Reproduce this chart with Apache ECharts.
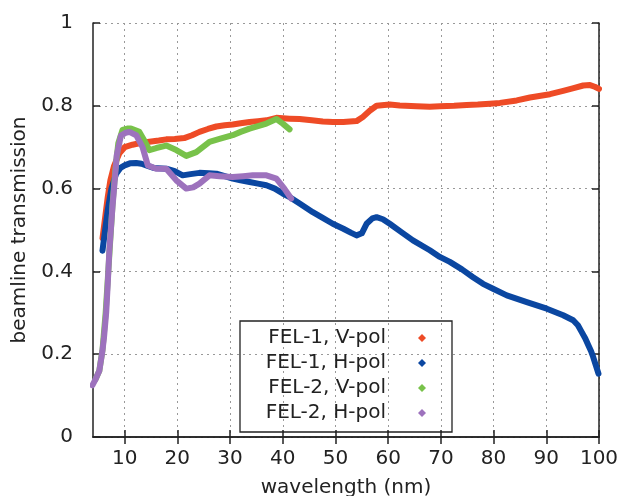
<!DOCTYPE html>
<html>
<head>
<meta charset="utf-8">
<script src="https://cdn.jsdelivr.net/npm/echarts@6/dist/echarts.min.js"></script>
<style>html,body{margin:0;padding:0;background:#fff;}#c{width:620px;height:496px;}</style>
</head>
<body>
<div id="c"></div>
<script>
const seriesNames = ['FEL-1, V-pol', 'FEL-1, H-pol', 'FEL-2, V-pol', 'FEL-2, H-pol'];
const xTicks = [10, 20, 30, 40, 50, 60, 70, 80, 90, 100];
const yTicks = [0, 0.2, 0.4, 0.6, 0.8, 1];

const fel1V_x = [5.8, 6.3, 6.8, 7.3, 8, 9, 10, 11.5, 13, 14.7, 16.5, 17.9, 19.5, 21.3, 22.8, 24.2, 25.8, 27.4, 29, 30.5, 32, 33.7, 35.3, 36.9, 38.8, 41.3, 43.2, 45.5, 47.6, 49.5, 51.5, 54, 55.2, 56.5, 57.8, 60.3, 62.2, 65.4, 67.9, 69.8, 72.5, 74.9, 77, 79.3, 81.2, 84.4, 86.9, 90.7, 93.2, 95, 97, 98.3, 99.2, 100];
const fel1V_y = [0.48, 0.53, 0.58, 0.62, 0.655, 0.685, 0.70, 0.706, 0.71, 0.713, 0.716, 0.719, 0.72, 0.722, 0.729, 0.737, 0.744, 0.75, 0.753, 0.755, 0.758, 0.761, 0.763, 0.765, 0.771, 0.769, 0.768, 0.765, 0.762, 0.761, 0.761, 0.763, 0.773, 0.788, 0.8, 0.803, 0.801, 0.799, 0.798, 0.799, 0.8, 0.802, 0.803, 0.805, 0.807, 0.813, 0.82, 0.828, 0.836, 0.842, 0.849, 0.850, 0.846, 0.841];

const fel1H_x = [5.8, 6.3, 6.8, 7.5, 8.4, 9.2, 10, 11, 12.2, 13.2, 14.1, 15.5, 17.9, 19.5, 21, 22.5, 24.2, 26, 27.4, 29, 30.5, 32, 33.7, 35.3, 36.9, 38.5, 40, 41.5, 43.2, 45.7, 47.5, 49.5, 51.5, 53, 54, 55, 55.9, 57, 57.8, 59, 60.3, 62.5, 64.7, 67.9, 69.8, 71.7, 74, 76.1, 78, 79.9, 82.5, 86.3, 90.1, 93.2, 95.1, 96, 96.7, 97.4, 98, 98.5, 98.9, 99.4, 99.9];
const fel1H_y = [0.45, 0.5, 0.548, 0.6, 0.636, 0.65, 0.656, 0.661, 0.662, 0.66, 0.656, 0.65, 0.648, 0.642, 0.632, 0.635, 0.638, 0.637, 0.636, 0.63, 0.624, 0.62, 0.616, 0.612, 0.608, 0.6, 0.588, 0.578, 0.564, 0.543, 0.53, 0.515, 0.503, 0.493, 0.487, 0.492, 0.515, 0.528, 0.531, 0.526, 0.515, 0.495, 0.475, 0.451, 0.435, 0.423, 0.405, 0.386, 0.37, 0.358, 0.342, 0.326, 0.31, 0.294, 0.282, 0.27, 0.254, 0.238, 0.221, 0.207, 0.193, 0.173, 0.153];

const fel2V_x = [4.5, 5.2, 5.8, 6.4, 6.8, 7.2, 7.7, 8.2, 8.8, 9.6, 10.5, 11.2, 12.2, 12.8, 13.7, 14.7, 16, 17.9, 19.8, 21.7, 23.6, 25, 26.1, 28, 30.5, 32, 33.7, 35.3, 36.9, 38.8, 40, 41.3];
const fel2V_y = [0.14, 0.16, 0.21, 0.3, 0.38, 0.46, 0.56, 0.64, 0.71, 0.742, 0.745, 0.745, 0.74, 0.737, 0.717, 0.693, 0.698, 0.704, 0.693, 0.679, 0.688, 0.702, 0.713, 0.72, 0.729, 0.737, 0.745, 0.751, 0.757, 0.768, 0.757, 0.743];

const fel2H_x = [3.9, 4.5, 5.2, 5.8, 6.1, 6.5, 6.8, 7.1, 7.7, 8, 8.5, 9.3, 10.2, 10.9, 12.2, 13.4, 14.4, 16, 17.9, 19.8, 21.7, 23, 24.2, 26.1, 28, 30.5, 32.5, 34.3, 36.9, 38.8, 40.3, 41.6];
const fel2H_y = [0.125, 0.14, 0.16, 0.209, 0.242, 0.3, 0.37, 0.45, 0.556, 0.6, 0.68, 0.728, 0.735, 0.737, 0.729, 0.70, 0.656, 0.648, 0.648, 0.62, 0.6, 0.603, 0.612, 0.632, 0.63, 0.628, 0.63, 0.632, 0.632, 0.624, 0.60, 0.576];

const colors = ['#ee4b26', '#0b47a1', '#78c24a', '#9d72bd'];
const xs = [fel1V_x, fel1H_x, fel2V_x, fel2H_x];
const ys = [fel1V_y, fel1H_y, fel2V_y, fel2H_y];

const FONT = 'DejaVu Sans';
const AX = '#222';

const chart = echarts.init(document.getElementById('c'), null, {renderer: 'canvas'});
const gridLine = {show: true, lineStyle: {color: '#999', type: [2, 4], width: 1}};
const option = {
  animation: false,
  backgroundColor: '#fff',
  grid: {left: 93, right: 21, top: 23, bottom: 59, containLabel: false, outerBoundsMode: 'none'},
  legend: {
    orient: 'vertical',
    left: 240, top: 321,
    align: 'right',
    icon: 'diamond',
    itemWidth: 8, itemHeight: 8,
    itemGap: 5,
    padding: [7, 26, 9, 16],
    borderColor: AX, borderWidth: 1.3,
    textStyle: {fontFamily: FONT, fontSize: 20, color: AX, lineHeight: 20, width: 130, align: 'right', padding: [0, 27, 0, 0]},
    data: seriesNames
  },
  xAxis: [{
    type: 'value', min: 4, max: 100,
    name: 'wavelength (nm)', nameLocation: 'middle', nameGap: 41,
    nameTextStyle: {fontFamily: FONT, fontSize: 20, color: AX},
    axisLine: {show: true, lineStyle: {color: AX, width: 1.5}},
    axisTick: {show: true, inside: true, length: 7, customValues: xTicks, lineStyle: {color: AX, width: 1.5}},
    axisLabel: {customValues: xTicks, fontFamily: FONT, fontSize: 20, color: AX, margin: 12, lineHeight: 20},
    splitLine: gridLine
  }, {
    type: 'value', min: 4, max: 100, position: 'top',
    axisLine: {show: true, lineStyle: {color: AX, width: 1.5}},
    axisTick: {show: true, inside: true, length: 7, customValues: xTicks, lineStyle: {color: AX, width: 1.5}},
    axisLabel: {show: false}, splitLine: {show: false}
  }],
  yAxis: [{
    type: 'value', min: 0, max: 1, interval: 0.2,
    name: 'beamline transmission', nameLocation: 'middle', nameGap: 52,
    nameTextStyle: {fontFamily: FONT, fontSize: 20, color: AX},
    axisLine: {show: true, lineStyle: {color: AX, width: 1.5}},
    axisTick: {show: true, inside: true, length: 7, lineStyle: {color: AX, width: 1.5}},
    axisLabel: {fontFamily: FONT, fontSize: 20, color: AX, margin: 20},
    splitLine: gridLine
  }, {
    type: 'value', min: 0, max: 1, interval: 0.2, position: 'right',
    axisLine: {show: true, lineStyle: {color: AX, width: 1.5}},
    axisTick: {show: true, inside: true, length: 7, lineStyle: {color: AX, width: 1.5}},
    axisLabel: {show: false}, splitLine: {show: false}
  }],
  series: seriesNames.map((name, i) => ({
    name: name,
    type: 'line',
    xAxisIndex: 0, yAxisIndex: 0,
    data: xs[i].map((x, k) => [x, ys[i][k]]),
    showSymbol: false,
    symbol: 'diamond',
    color: colors[i],
    lineStyle: {width: 6, color: colors[i], cap: 'round', join: 'round'},
    itemStyle: {color: colors[i]},
    clip: true
  }))
};
chart.setOption(option);
</script>
</body>
</html>
